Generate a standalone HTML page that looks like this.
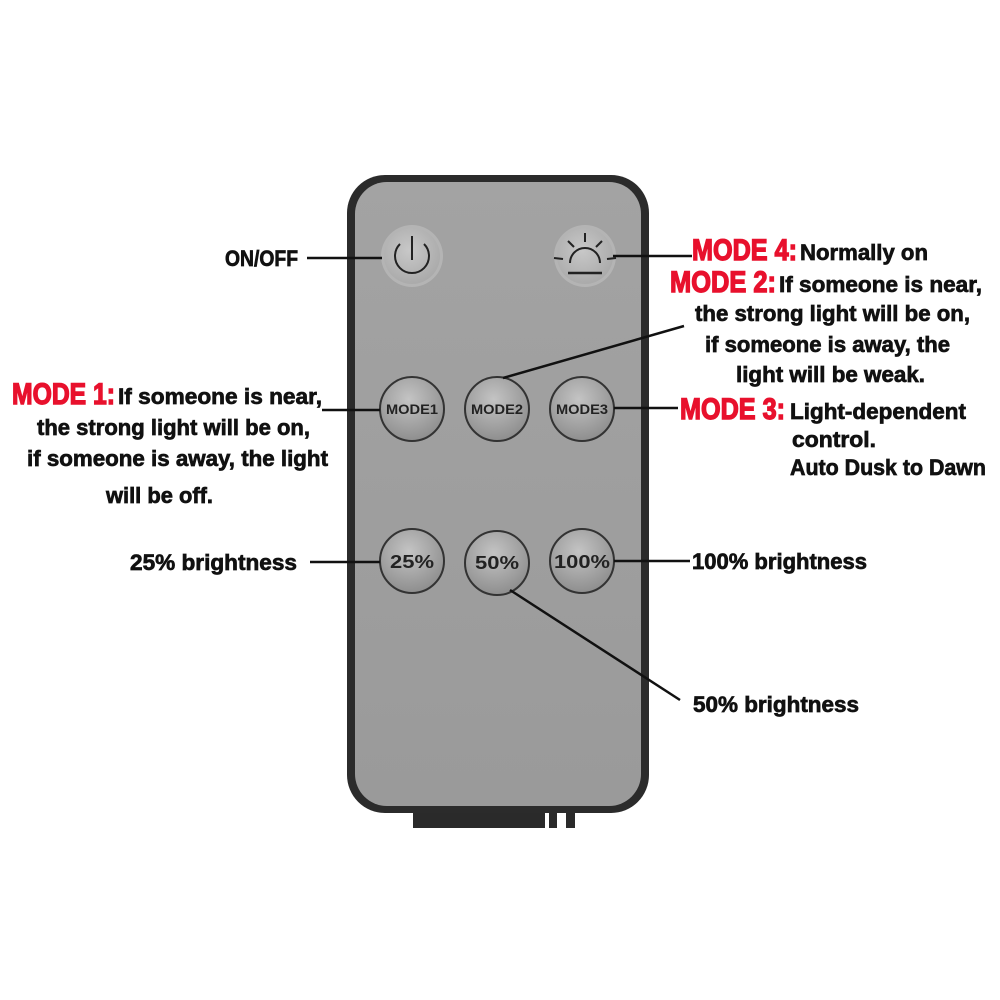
<!DOCTYPE html>
<html><head><style>
html,body{margin:0;padding:0;background:#fff;}
svg{display:block;}
.t{font-family:"Liberation Sans Narrow","Liberation Sans",sans-serif;font-weight:bold;fill:#111;stroke:#111;stroke-width:0.7;font-size:22px;}
.r{font-family:"Liberation Sans Narrow","Liberation Sans",sans-serif;font-weight:bold;fill:#e8112d;stroke:#e8112d;stroke-width:1.4;font-size:30px;}
.b{font-family:"Liberation Sans",sans-serif;font-weight:bold;fill:#222;font-size:14px;}
</style></head><body>
<svg width="1000" height="1000" viewBox="0 0 1000 1000" xmlns="http://www.w3.org/2000/svg">
<defs>
<radialGradient id="bg" cx="45%" cy="35%" r="65%">
<stop offset="0" stop-color="#c4c4c4"/><stop offset="1" stop-color="#8e8e8e"/>
</radialGradient>
<radialGradient id="bg2" cx="45%" cy="40%" r="65%">
<stop offset="0" stop-color="#c8c8c8"/><stop offset="1" stop-color="#a8a8a8"/>
</radialGradient>
<linearGradient id="body" x1="0" y1="0" x2="0" y2="1">
<stop offset="0" stop-color="#a3a3a3"/><stop offset="1" stop-color="#9a9a9a"/>
</linearGradient>
</defs>
<rect x="413" y="805" width="132" height="23" fill="#2a2a2a"/>
<rect x="549" y="805" width="8" height="23" fill="#2a2a2a"/>
<rect x="566" y="805" width="9" height="23" fill="#2a2a2a"/>
<rect x="347" y="175" width="302" height="638" rx="38" fill="#2b2b2b"/>
<rect x="355" y="182" width="286" height="624" rx="32" fill="url(#body)"/>
<circle cx="412" cy="256" r="31" fill="#b4b4b4"/>
<circle cx="412" cy="256" r="28" fill="url(#bg2)"/>
<path d="M400 244 A17 17 0 1 0 424 244" fill="none" stroke="#222" stroke-width="2"/>
<line x1="412" y1="236" x2="412" y2="260" stroke="#222" stroke-width="2"/>
<circle cx="585" cy="256" r="31" fill="#b4b4b4"/>
<circle cx="585" cy="256" r="28" fill="url(#bg2)"/>
<path d="M570 263 A15 15 0 0 1 600 263" fill="none" stroke="#222" stroke-width="2"/>
<line x1="568" y1="273" x2="602" y2="273" stroke="#222" stroke-width="2.5"/>
<line x1="585" y1="233" x2="585" y2="242" stroke="#222" stroke-width="2"/>
<line x1="568" y1="241" x2="574" y2="247" stroke="#222" stroke-width="2"/>
<line x1="602" y1="241" x2="596" y2="247" stroke="#222" stroke-width="2"/>
<line x1="554" y1="258" x2="563" y2="259" stroke="#222" stroke-width="2"/>
<line x1="616" y1="258" x2="607" y2="259" stroke="#222" stroke-width="2"/>
<g stroke="#333" stroke-width="2" fill="url(#bg)">
<circle cx="412" cy="409" r="32"/><circle cx="497" cy="409" r="32"/><circle cx="582" cy="409" r="32"/>
<circle cx="412" cy="561" r="32"/><circle cx="497" cy="563" r="32"/><circle cx="582" cy="561" r="32"/>
</g>
<g class="b" text-anchor="middle">
<text x="412" y="414" textLength="52" lengthAdjust="spacingAndGlyphs">MODE1</text>
<text x="497" y="414" textLength="52" lengthAdjust="spacingAndGlyphs">MODE2</text>
<text x="582" y="414" textLength="52" lengthAdjust="spacingAndGlyphs">MODE3</text>
<text x="412" y="568" font-size="18" textLength="44" lengthAdjust="spacingAndGlyphs">25%</text>
<text x="497" y="569" font-size="18" textLength="44" lengthAdjust="spacingAndGlyphs">50%</text>
<text x="582" y="568" font-size="18" textLength="56" lengthAdjust="spacingAndGlyphs">100%</text>
</g>
<g stroke="#111" stroke-width="2.5">
<line x1="307" y1="258" x2="382" y2="258"/>
<line x1="613" y1="256" x2="692" y2="256"/>
<line x1="503" y1="378" x2="684" y2="326"/>
<line x1="322" y1="410" x2="380" y2="410"/>
<line x1="614" y1="408" x2="678" y2="408"/>
<line x1="310" y1="562" x2="380" y2="562"/>
<line x1="614" y1="561" x2="690" y2="561"/>
<line x1="510" y1="590" x2="680" y2="700"/>
</g>
<text class="t" x="225" y="266" textLength="73" lengthAdjust="spacingAndGlyphs">ON/OFF</text>
<text class="r" x="692" y="260" textLength="105" lengthAdjust="spacingAndGlyphs">MODE 4:</text>
<text class="t" x="800" y="260" textLength="128" lengthAdjust="spacingAndGlyphs">Normally on</text>
<text class="r" x="670" y="292" textLength="106" lengthAdjust="spacingAndGlyphs">MODE 2:</text>
<text class="t" x="779" y="292" textLength="203" lengthAdjust="spacingAndGlyphs">If someone is near,</text>
<text class="t" x="695" y="321" textLength="275" lengthAdjust="spacingAndGlyphs">the strong light will be on,</text>
<text class="t" x="705" y="352" textLength="245" lengthAdjust="spacingAndGlyphs">if someone is away, the</text>
<text class="t" x="736" y="382" textLength="189" lengthAdjust="spacingAndGlyphs">light will be weak.</text>
<text class="r" x="680" y="419" textLength="105" lengthAdjust="spacingAndGlyphs">MODE 3:</text>
<text class="t" x="790" y="419" textLength="176" lengthAdjust="spacingAndGlyphs">Light-dependent</text>
<text class="t" x="792" y="447" textLength="84" lengthAdjust="spacingAndGlyphs">control.</text>
<text class="t" x="790" y="475" textLength="196" lengthAdjust="spacingAndGlyphs">Auto Dusk to Dawn</text>
<text class="r" x="12" y="404" textLength="103" lengthAdjust="spacingAndGlyphs">MODE 1:</text>
<text class="t" x="118" y="404" textLength="204" lengthAdjust="spacingAndGlyphs">If someone is near,</text>
<text class="t" x="37" y="435" textLength="273" lengthAdjust="spacingAndGlyphs">the strong light will be on,</text>
<text class="t" x="27" y="466" textLength="301" lengthAdjust="spacingAndGlyphs">if someone is away, the light</text>
<text class="t" x="106" y="503" textLength="107" lengthAdjust="spacingAndGlyphs">will be off.</text>
<text class="t" x="130" y="570" textLength="167" lengthAdjust="spacingAndGlyphs">25% brightness</text>
<text class="t" x="692" y="569" textLength="175" lengthAdjust="spacingAndGlyphs">100% brightness</text>
<text class="t" x="693" y="712" textLength="166" lengthAdjust="spacingAndGlyphs">50% brightness</text>
</svg>
</body></html>
